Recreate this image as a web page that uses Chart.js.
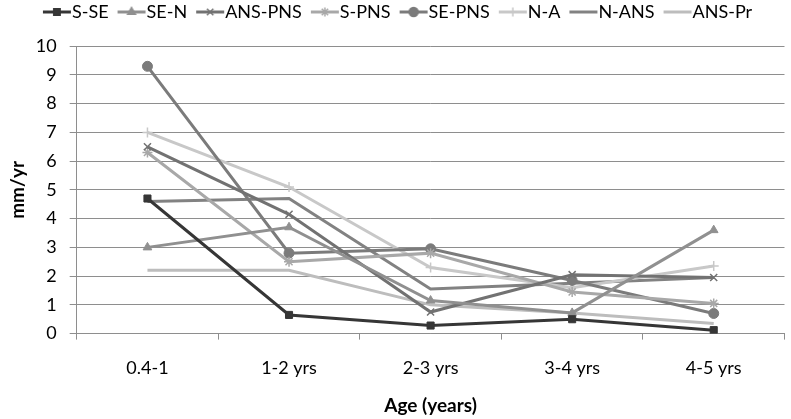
<!DOCTYPE html>
<html>
<head>
<meta charset="utf-8">
<script src="https://cdn.jsdelivr.net/npm/chart.js@4/dist/chart.umd.min.js"></script>
<style>
  html, body { margin: 0; padding: 0; background: #fff; }
  #wrap { width: 791px; height: 419px; }
</style>
</head>
<body>
<div id="wrap"><canvas id="myChart" width="791" height="419"></canvas></div>
<script>
var ages = ['0.4-1', '1-2 yrs', '2-3 yrs', '3-4 yrs', '4-5 yrs'];
var seriesNames = ['S-SE', 'SE-N', 'ANS-PNS', 'S-PNS', 'SE-PNS', 'N-A', 'N-ANS', 'ANS-Pr'];
var sSe    = [4.7, 0.65, 0.28, 0.5, 0.12];
var seN    = [3.0, 3.7, 1.15, 0.72, 3.6];
var ansPns = [6.5, 4.15, 0.75, 2.05, 1.95];
var sPns   = [6.3, 2.5, 2.8, 1.45, 1.05];
var sePns  = [9.3, 2.8, 2.95, 1.85, 0.7];
var nA     = [7.0, 5.1, 2.3, 1.6, 2.35];
var nAns   = [4.6, 4.7, 1.55, 1.75, 1.95];
var ansPr  = [2.2, 2.2, 1.0, 0.72, 0.35];

var values = [sSe, seN, ansPns, sPns, sePns, nA, nAns, ansPr];
var colors = ['#363636', '#909090', '#727272', '#a8a8a8', '#7b7b7b', '#c8c8c8', '#828282', '#bdbdbd'];
var markers = ['rect', 'triangle', 'crossRot', 'star', 'circle', 'cross', false, false];

var font = "Lato, 'Open Sans', sans-serif";
var gridColor = '#8e8e8e';

// legend icon: line with marker in the middle, padded on the left so the
// text sits right next to it
function legendIcon(color, marker) {
    var c = document.createElement('canvas');
    c.width = 48; c.height = 14;
    var g = c.getContext('2d');
    g.strokeStyle = color; g.fillStyle = color; g.lineWidth = 3;
    g.beginPath(); g.moveTo(14, 7); g.lineTo(42, 7); g.stroke();
    if (marker) {
        g.lineWidth = 1.5;
        Chart.helpers.drawPoint(g, {pointStyle: marker, radius: 4.5, borderWidth: 1.5}, 28, 7);
    }
    return c;
}

var datasets = seriesNames.map(function (name, i) {
    var m = markers[i];
    return {
        label: name,
        data: values[i],
        borderColor: colors[i],
        backgroundColor: colors[i],
        borderWidth: 3,
        pointStyle: m || 'circle',
        pointRadius: m ? 5 : 0,
        pointBorderWidth: (m === 'crossRot' || m === 'star' || m === 'cross') ? 1.5 : 1,
        tension: 0
    };
});

var ctx = document.getElementById('myChart').getContext('2d');
var myChart = new Chart(ctx, {
    type: 'line',
    data: { labels: ages, datasets: datasets },
    options: {
        responsive: false,
        animation: false,
        layout: { padding: { left: 4, right: 0, top: -6, bottom: 0 } },
        plugins: {
            tooltip: { enabled: false },
            // empty title used only as a spacer between legend and plot
            title: { display: true, text: ' ', weight: 100, font: { size: 1 }, padding: { top: 8, bottom: 6 } },
            legend: {
                position: 'top',
                align: 'center',
                labels: {
                    color: '#000',
                    font: { family: font, size: 18 },
                    usePointStyle: true,
                    pointStyleWidth: 20,
                    padding: 9,
                    generateLabels: function (chart) {
                        return chart.data.datasets.map(function (ds, i) {
                            return {
                                text: ds.label,
                                pointStyle: legendIcon(colors[i], markers[i]),
                                fillStyle: colors[i],
                                strokeStyle: colors[i],
                                lineWidth: 0,
                                fontColor: '#000',
                                datasetIndex: i
                            };
                        });
                    }
                }
            }
        },
        scales: {
            x: {
                offset: true,
                grid: { drawOnChartArea: false, drawTicks: true, tickLength: 6, offset: true, color: gridColor },
                border: { color: gridColor, width: 1 },
                ticks: { color: '#000', font: { family: font, size: 18 }, padding: 18 },
                title: { display: true, text: 'Age (years)', color: '#000', font: { family: font, size: 19, weight: 'bold' }, padding: { top: -3, bottom: 2 } }
            },
            y: {
                min: 0,
                max: 10,
                ticks: { stepSize: 1, color: '#000', font: { family: font, size: 18 }, padding: 13 },
                grid: { color: gridColor, lineWidth: 1, tickLength: 7 },
                border: { color: gridColor, width: 1 },
                title: { display: true, text: 'mm/yr', color: '#000', font: { family: font, size: 19, weight: 'bold' }, padding: { top: 2, bottom: -6 } }
            }
        }
    }
});
</script>
</body>
</html>
